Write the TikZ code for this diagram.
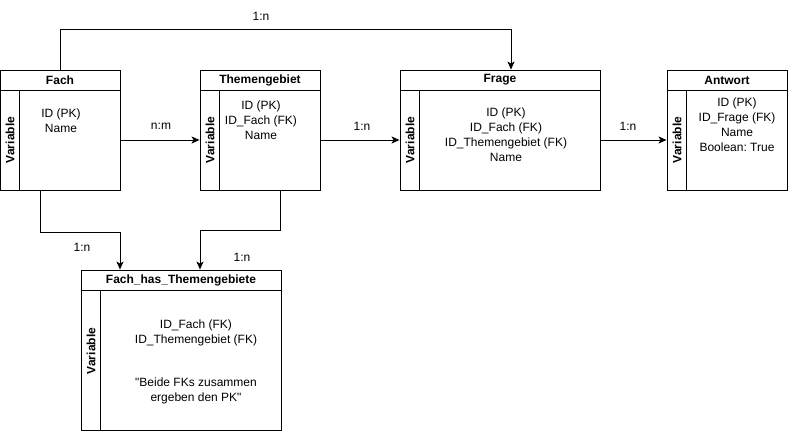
\documentclass[tikz,border=0pt]{standalone}
\usepackage{fontspec}
\setmainfont{Liberation Sans}[Ligatures=TeXOff]
\usetikzlibrary{arrows.meta}
\frenchspacing

\begin{document}
\begin{tikzpicture}[x=1pt,y=-1pt,line width=0.9pt,
    every node/.style={font=\fontsize{12}{15}\selectfont},
    title/.style={draw,minimum height=20pt,inner sep=0pt,font=\fontsize{12}{15}\selectfont\bfseries},
    body/.style={draw,inner sep=0pt},
    strip/.style={rotate=90,inner sep=0pt,font=\fontsize{12}{15}\selectfont\bfseries},
    attr/.style={align=center,inner sep=0pt},
    conn/.style={-{Stealth[length=8pt,width=7pt,inset=2pt]}},
    lbl/.style={inner sep=0pt}]
  \useasboundingbox (0,0) rectangle (788,431);
  % Fach
  \node[title,minimum width=120pt] (fachT) at (60,80) {Fach};
  \node[body,minimum width=120pt,minimum height=100pt] (fachB) at (60,140) {};
  \draw ([xshift=20pt]fachB.north west) -- ([xshift=20pt]fachB.south west);
  \node[strip] (fachV) at (10,140) {Variable};
  \node[attr] (fachA) at (61,120.5) {ID (PK)\\Name};
  % Themengebiet
  \node[title,minimum width=120pt] (themeT) at (260,80) {Themengebiet};
  \node[body,minimum width=120pt,minimum height=100pt] (themeB) at (260,140) {};
  \draw ([xshift=20pt]themeB.north west) -- ([xshift=20pt]themeB.south west);
  \node[strip] (themeV) at (210,140) {Variable};
  \node[attr] (themeA) at (261,120) {ID (PK)\\ID\_Fach (FK)\\Name};
  % Frage
  \node[title,minimum width=200pt] (frageT) at (500,80) {Frage};
  \node[body,minimum width=200pt,minimum height=100pt] (frageB) at (500,140) {};
  \draw ([xshift=20pt]frageB.north west) -- ([xshift=20pt]frageB.south west);
  \node[strip] (frageV) at (410,140) {Variable};
  \node[attr] (frageA) at (506,135) {ID (PK)\\ID\_Fach (FK)\\ID\_Themengebiet (FK)\\Name};
  % Antwort
  \node[title,minimum width=120pt] (antwT) at (727,80) {Antwort};
  \node[body,minimum width=120pt,minimum height=100pt] (antwB) at (727,140) {};
  \draw ([xshift=20pt]antwB.north west) -- ([xshift=20pt]antwB.south west);
  \node[strip] (antwV) at (677,140) {Variable};
  \node[attr] (antwA) at (737,125) {ID (PK)\\ID\_Frage (FK)\\Name\\Boolean: True};
  % Fach_has_Themengebiete
  \node[title,minimum width=200pt] (fhtT) at (181,280) {Fach\_has\_Themengebiete};
  \node[body,minimum width=200pt,minimum height=140pt] (fhtB) at (181,360) {};
  \draw ([xshift=20pt]fhtB.north west) -- ([xshift=20pt]fhtB.south west);
  \node[strip] (fhtV) at (91,351) {Variable};
  \node[attr] (fhtA) at (196,333) {ID\_Fach (FK)\\ID\_Themengebiet (FK)};
  \node[attr] (fhtN) at (196,390.5) {"Beide FKs zusammen\\ergeben den PK"};
  % Beziehungen
  \draw[conn] (fachB.east) -- (themeB.west);
  \draw[conn] (themeB.east) -- (frageB.west);
  \draw[conn] (frageB.east) -- (antwB.west);
  \draw[conn] (fachT.north) -- ++(0,-40) -| ([xshift=11pt]frageT.north);
  \draw[conn] ([xshift=-20pt]fachB.south) -- ++(0,42) -| ([xshift=-61pt]fhtT.north);
  \draw[conn] ([xshift=20pt]themeB.south) -- ++(0,40) -| ([xshift=19pt]fhtT.north);
  \node[lbl] (l1) at (261,16) {1:n};
  \node[lbl] (l2) at (161,126) {n:m};
  \node[lbl] (l3) at (362,126) {1:n};
  \node[lbl] (l4) at (628,126) {1:n};
  \node[lbl] (l5) at (82,247) {1:n};
  \node[lbl] (l6) at (242,257) {1:n};
\end{tikzpicture}
\end{document}
